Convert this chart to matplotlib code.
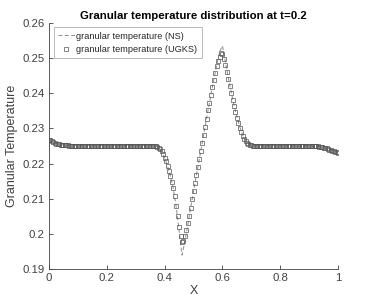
import numpy as np
import matplotlib
matplotlib.use("Agg")
import matplotlib.pyplot as plt
from matplotlib.ticker import FormatStrFormatter

plt.rcParams['font.family'] = ['Liberation Sans', 'DejaVu Sans']

# UGKS: x = 0, 0.005, ..., 1
t_ugks = [
    0.2268, 0.2266, 0.2263, 0.2261, 0.2259, 0.2257, 0.2256, 0.2255, 0.2254, 0.2253,
    0.2253, 0.2252, 0.2252, 0.2252, 0.2251, 0.2251, 0.2251, 0.2251, 0.2251, 0.2251,
    0.2251, 0.2251, 0.2251, 0.2251, 0.2251, 0.2251, 0.2251, 0.2251, 0.2251, 0.2251,
    0.2251, 0.2251, 0.2251, 0.2251, 0.2251, 0.2251, 0.2251, 0.2251, 0.2251, 0.2251,
    0.2251, 0.2251, 0.2251, 0.2251, 0.2251, 0.2251, 0.2251, 0.2251, 0.2251, 0.2251,
    0.2251, 0.2251, 0.2251, 0.2251, 0.2251, 0.2251, 0.2251, 0.2251, 0.2251, 0.2251,
    0.2251, 0.2251, 0.2251, 0.2251, 0.2251, 0.2251, 0.2251, 0.2251, 0.2251, 0.2251,
    0.2251, 0.2251, 0.2250, 0.2250, 0.2249, 0.2248, 0.2245, 0.2241, 0.2235, 0.2227,
    0.2217, 0.2206, 0.2194, 0.2180, 0.2165, 0.2148, 0.2130, 0.2107, 0.2080, 0.2050,
    0.2020, 0.1994, 0.1977, 0.1981, 0.1993, 0.2010, 0.2030, 0.2052, 0.2075, 0.2098,
    0.2121, 0.2144, 0.2167, 0.2190, 0.2213, 0.2236, 0.2259, 0.2282, 0.2305, 0.2328,
    0.2351, 0.2373, 0.2395, 0.2417, 0.2438, 0.2458, 0.2476, 0.2492, 0.2504, 0.2514,
    0.2512, 0.2498, 0.2480, 0.2460, 0.2440, 0.2420, 0.2400, 0.2381, 0.2363, 0.2346,
    0.2330, 0.2315, 0.2301, 0.2289, 0.2278, 0.2270, 0.2263, 0.2258, 0.2255, 0.2253,
    0.2252, 0.2251, 0.2251, 0.2251, 0.2251, 0.2251, 0.2251, 0.2251, 0.2251, 0.2251,
    0.2251, 0.2251, 0.2251, 0.2251, 0.2251, 0.2251, 0.2251, 0.2251, 0.2251, 0.2251,
    0.2251, 0.2251, 0.2251, 0.2251, 0.2251, 0.2251, 0.2251, 0.2251, 0.2251, 0.2251,
    0.2251, 0.2251, 0.2251, 0.2251, 0.2251, 0.2251, 0.2251, 0.2251, 0.2251, 0.2251,
    0.2251, 0.2251, 0.2250, 0.2250, 0.2250, 0.2249, 0.2249, 0.2248, 0.2247, 0.2246,
    0.2245, 0.2244, 0.2243, 0.2242, 0.2240, 0.2239, 0.2237, 0.2236, 0.2234, 0.2232,
    0.2230,
]

# NS: x = 0, 0.01, ..., 1
t_ns = [
    0.2268, 0.2263, 0.2259, 0.2256, 0.2254, 0.2253, 0.2252, 0.2251, 0.2251, 0.2251,
    0.2251, 0.2251, 0.2251, 0.2251, 0.2251, 0.2251, 0.2251, 0.2251, 0.2251, 0.2251,
    0.2251, 0.2251, 0.2251, 0.2251, 0.2251, 0.2251, 0.2251, 0.2251, 0.2251, 0.2251,
    0.2251, 0.2251, 0.2251, 0.2251, 0.2251, 0.2251, 0.2251, 0.2250, 0.2245, 0.2235,
    0.2217, 0.2193, 0.2164, 0.2128, 0.2078, 0.2010, 0.1940, 0.1978, 0.2026, 0.2074,
    0.2121, 0.2167, 0.2213, 0.2259, 0.2305, 0.2351, 0.2395, 0.2438, 0.2480, 0.2517,
    0.2535, 0.2490, 0.2446, 0.2404, 0.2366, 0.2333, 0.2304, 0.2281, 0.2265, 0.2256,
    0.2252, 0.2251, 0.2251, 0.2251, 0.2251, 0.2251, 0.2251, 0.2251, 0.2251, 0.2251,
    0.2251, 0.2251, 0.2251, 0.2251, 0.2251, 0.2251, 0.2251, 0.2251, 0.2251, 0.2251,
    0.2251, 0.2250, 0.2250, 0.2249, 0.2247, 0.2245, 0.2243, 0.2240, 0.2237, 0.2234,
    0.2230,
]

x_ugks = np.linspace(0, 1, len(t_ugks))
x_ns = np.linspace(0, 1, len(t_ns))

x_ticks = [0, 0.2, 0.4, 0.6, 0.8, 1]
y_ticks = [0.19, 0.20, 0.21, 0.22, 0.23, 0.24, 0.25, 0.26]

axis_color = '#404040'

fig = plt.figure(figsize=(3.74, 3.01), dpi=100)
ax = fig.add_axes([0.131, 0.106, 0.773, 0.818])

ax.plot(x_ns, t_ns, linestyle='--', color='#8c8c8c', linewidth=0.7,
        dashes=(4, 2.5), label='granular temperature (NS)')
ax.plot(x_ugks, t_ugks, linestyle='none', marker='s', markersize=3.3,
        markerfacecolor='none', markeredgecolor='#555555', markeredgewidth=0.5,
        label='granular temperature (UGKS)')

ax.set_xlim(0, 1)
ax.set_ylim(0.19, 0.26)
ax.set_xticks(x_ticks)
ax.set_yticks(y_ticks)
ax.xaxis.set_major_formatter(FormatStrFormatter('%g'))
ax.yaxis.set_major_formatter(FormatStrFormatter('%g'))

for side in ['top', 'right']:
    ax.spines[side].set_visible(False)
for side in ['left', 'bottom']:
    ax.spines[side].set_color(axis_color)
    ax.spines[side].set_linewidth(0.6)
ax.tick_params(direction='in', length=3, width=0.6, color=axis_color,
               labelcolor=axis_color, labelsize=8.2, pad=3)

ax.set_title('Granular temperature distribution at t=0.2', fontsize=8.2,
             fontweight='bold', color='black', pad=3)
ax.set_xlabel('X', fontsize=9, color=axis_color, labelpad=1)
ax.set_ylabel('Granular Temperature', fontsize=9, color=axis_color, labelpad=3)

leg = ax.legend(loc='upper left', fontsize=6.6, frameon=True, fancybox=False,
                borderpad=0.45, handlelength=1.9, handletextpad=0.15,
                labelspacing=0.5, borderaxespad=0.5, markerscale=0.8)
leg.get_frame().set_edgecolor('#9a9a9a')
leg.get_frame().set_linewidth(0.6)
for txt in leg.get_texts():
    txt.set_color('#262626')

fig.savefig('out.png', dpi=100)
